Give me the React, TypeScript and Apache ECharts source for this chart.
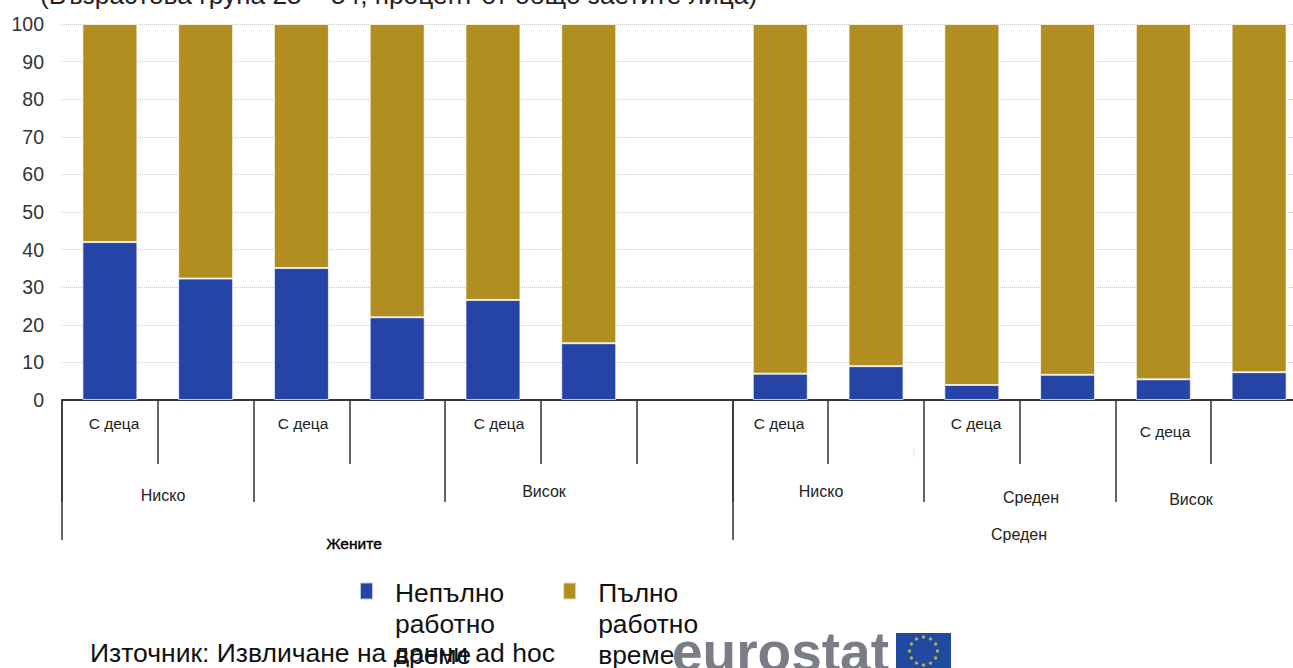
import React, { useEffect, useRef } from "react";
import * as echarts from "echarts";

const FONT = '"Liberation Sans", Arial, sans-serif';

const categories = ["a1", "a2", "a3", "a4", "a5", "a6", "gap", "b1", "b2", "b3", "b4", "b5", "b6"];
const partTime = [42, 32.3, 35.1, 22, 26.6, 15.1, null, 7, 9, 4, 6.7, 5.5, 7.4];
const fullTime = [58, 67.7, 64.9, 78, 73.4, 84.9, null, 93, 91, 96, 93.3, 94.5, 92.6];
const seriesNames = ["Непълно\nработно\nвреме", "Пълно\nработно\nвреме"];
const titleText = "(Възрастова група 25 – 54, процент от общо заетите лица)";
const sourceText = "Източник: Извличане на данни ad hoc";
const logoText = "eurostat";
const childLabels = [
  { text: "С деца", x: 114, y: 423 },
  { text: "С деца", x: 303, y: 423 },
  { text: "С деца", x: 499, y: 423 },
  { text: "С деца", x: 779, y: 423 },
  { text: "С деца", x: 976, y: 423 },
  { text: "С деца", x: 1165, y: 431 },
];
const midLabels = [
  { text: "Ниско", x: 163, y: 495 },
  { text: "Висок", x: 544, y: 491 },
  { text: "Ниско", x: 821, y: 491 },
  { text: "Среден", x: 1031, y: 497 },
  { text: "Висок", x: 1191, y: 499 },
  { text: "Среден", x: 1019, y: 534 },
];
const shortTicks = [1, 3, 5, 6, 8, 10, 12];
const midTicks = [0, 2, 4, 7, 9, 11];
const longTicks = [0, 7];

const BLUE = "#2644a6";
const GOLD = "#b08f20";
const INK = "#333333";

const starAngles = [0, 30, 60, 90, 120, 150, 180, 210, 240, 270, 300, 330];

function App() {
  const ref = useRef<HTMLDivElement>(null);
  useEffect(() => {
    if (!ref.current) return;
    const chart = echarts.init(ref.current, undefined, { renderer: "svg" });
    const tickAxis = (ticks: number[], length: number) => ({
      type: "category" as const,
      data: categories,
      position: "bottom" as const,
      axisLine: { show: true, lineStyle: { color: INK, width: 1.5 } },
      axisTick: {
        show: true,
        length,
        interval: (i: number) => ticks.includes(i),
        lineStyle: { color: INK, width: 1.5 },
      },
      axisLabel: { show: false },
      splitLine: { show: false },
    });
    chart.setOption({
      animation: false,
      textStyle: { fontFamily: FONT },
      grid: { left: 62, top: 24, width: 1245, height: 376, containLabel: false, outerBoundsMode: "none" },
      xAxis: [tickAxis(shortTicks, 64), tickAxis(midTicks, 102), tickAxis(longTicks, 140)],
      yAxis: {
        type: "value",
        min: 0,
        max: 100,
        interval: 10,
        axisLine: { show: false },
        axisTick: { show: false },
        axisLabel: { color: "#333", fontSize: 19.5, margin: 18, fontFamily: FONT },
        splitLine: { show: true, lineStyle: { color: "#c8c8c8", type: "dotted", width: 1 } },
      },
      legend: {
        left: 354,
        top: 572,
        orient: "horizontal",
        itemWidth: 13,
        itemHeight: 82,
        itemGap: 58,
        icon: "path://M0 0H13V17H0ZM0 82H13",
        selectedMode: false,
        data: seriesNames,
        textStyle: { fontSize: 26.4, lineHeight: 31, color: "#111", fontFamily: FONT, padding: [0, 0, 0, 17] },
      },
      series: [
        {
          name: seriesNames[0],
          type: "bar",
          stack: "t",
          barWidth: 55,
          data: partTime,
          itemStyle: { color: BLUE, borderColor: "rgba(255,255,255,0.7)", borderWidth: 1 },
        },
        {
          name: seriesNames[1],
          type: "bar",
          stack: "t",
          barWidth: 55,
          data: fullTime,
          itemStyle: { color: GOLD, borderColor: "rgba(255,255,255,0.7)", borderWidth: 1 },
        },
      ],
      graphic: [
        {
          type: "text",
          x: 40,
          y: 8,
          style: { text: titleText, font: `26.3px ${FONT}`, fill: "#222", verticalAlign: "bottom" },
        },
        ...childLabels.map((l) => ({
          type: "text",
          x: l.x,
          y: l.y,
          style: { text: l.text, font: `15.5px ${FONT}`, fill: "#222", align: "center", verticalAlign: "middle" },
        })),
        ...midLabels.map((l) => ({
          type: "text",
          x: l.x,
          y: l.y,
          style: { text: l.text, font: `16px ${FONT}`, fill: "#222", align: "center", verticalAlign: "middle" },
        })),
        {
          type: "text",
          x: 354,
          y: 543,
          style: {
            text: "Жените",
            font: `15.5px ${FONT}`,
            fill: "#000",
            stroke: "#000",
            lineWidth: 0.4,
            align: "center",
            verticalAlign: "middle",
          },
        },
        {
          type: "text",
          x: 90,
          y: 653,
          style: { text: sourceText, font: `26.5px ${FONT}`, fill: "#111", verticalAlign: "middle" },
        },
        {
          type: "text",
          x: 672,
          y: 679,
          z: 10,
          style: { text: logoText, font: `bold 55px ${FONT}`, fill: "#7a7d85", verticalAlign: "bottom" },
        },
        {
          type: "rect",
          z: 10,
          shape: { x: 896, y: 633, width: 55, height: 37 },
          style: { fill: "#1f4aa0" },
        },
        ...starAngles.map((deg) => ({
          type: "circle",
          z: 11,
          shape: {
            cx: 923.5 + 14 * Math.sin((deg * Math.PI) / 180),
            cy: 651 + 14 * Math.cos((deg * Math.PI) / 180),
            r: 1.7,
          },
          style: { fill: "#b9ab4a" },
        })),
        {
          type: "line",
          shape: { x1: 914, y1: 449, x2: 914, y2: 457 },
          style: { stroke: "#dddddd", lineWidth: 1 },
        },
      ],
    });
    return () => chart.dispose();
  }, []);
  return (
    <div
      ref={ref}
      style={{ position: "fixed", left: 0, top: 0, width: 1293, height: 668, background: "#fff", overflow: "hidden" }}
    />
  );
}

export default App;
